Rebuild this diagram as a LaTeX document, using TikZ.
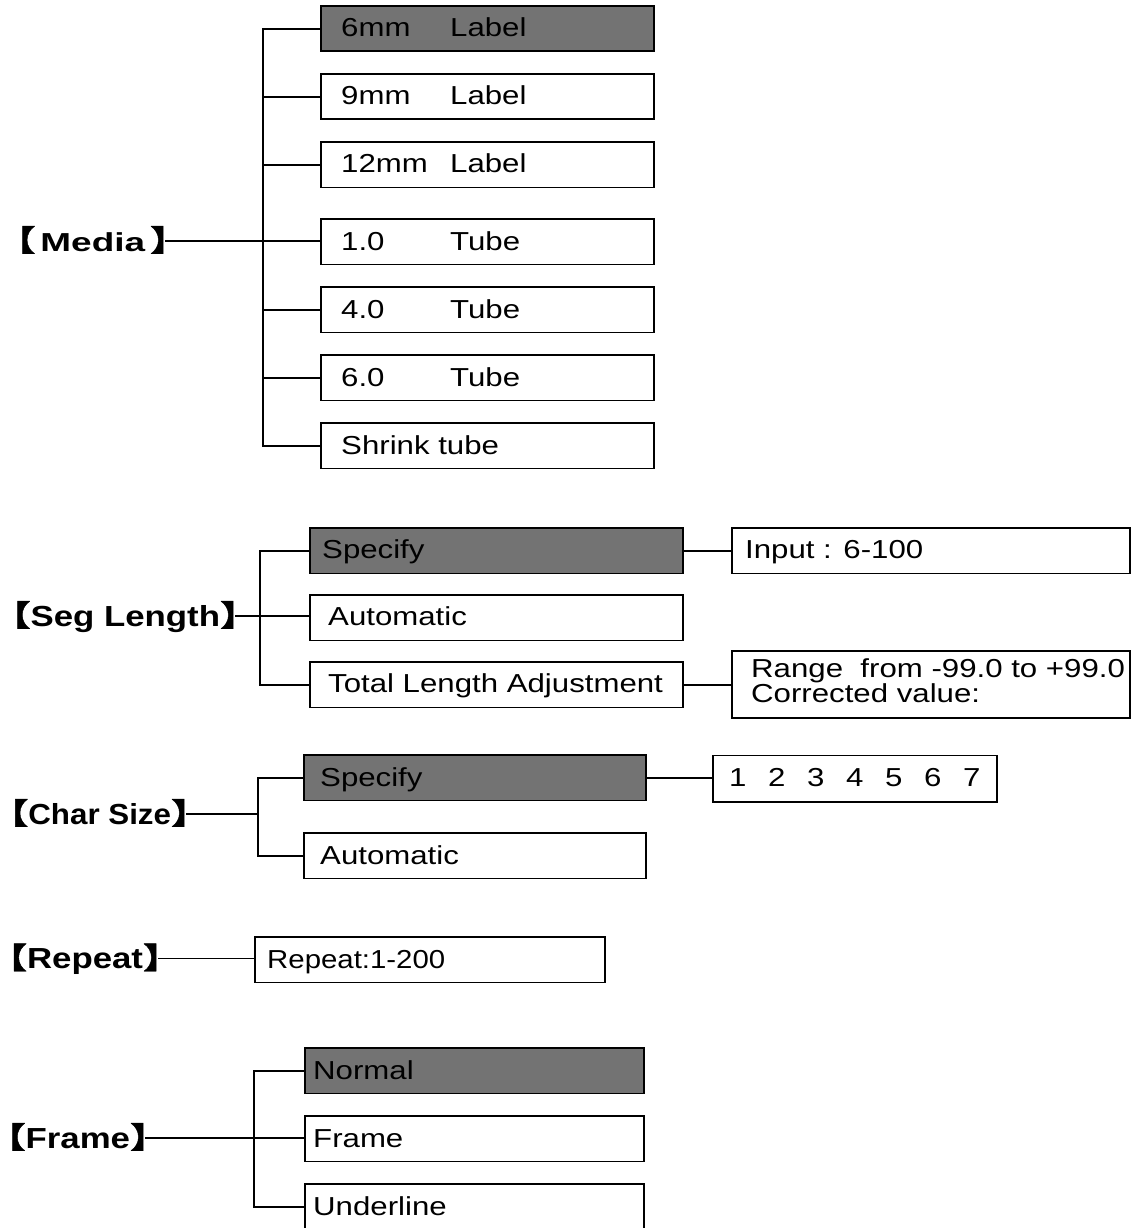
\documentclass[tikz,border=0pt]{standalone}
\usepackage{fontspec}
\setmainfont{Liberation Sans}[FakeStretch=1.2]
\newfontfamily\lblfont{Liberation Sans}[FakeStretch=1.2]
\newfontfamily\chrfont{Liberation Sans}[FakeStretch=1.08]
\newfontfamily\medfont{Liberation Sans}[FakeStretch=1.42]
\newfontfamily\repfont{Liberation Sans}[FakeStretch=1.13]
\newfontfamily\cjkfont{Noto Sans CJK SC}[FakeStretch=1.3, FakeBold=1.5]
\newcommand{\brk}[2]{{\bfseries{\cjkfont\fontsize{29}{30}\selectfont\kern-26pt 【}{#1#2}{\cjkfont\fontsize{29}{30}\selectfont 】\kern-23pt}}}
\tikzset{
  box/.style={draw, line width=1.8pt, anchor=north west, inner sep=0pt, minimum height=45.5pt},
  shadedbox/.style={box, fill=black!55},
  txt/.style={anchor=west, inner sep=0pt, text height=18.6pt, text depth=0pt, font=\fontsize{26}{30}\selectfont},
  lbl/.style={anchor=east, inner sep=0pt, text height=20pt, text depth=0pt, font=\fontsize{29}{30}\selectfont},
  wire/.style={line width=1.8pt}
}
\begin{document}
\begin{tikzpicture}[x=1pt,y=-1pt]
\useasboundingbox (0,0) rectangle (1133,1228);
% ---------- Media ----------
\node[shadedbox, minimum width=333pt] (m1) at (320,5) {};
\node[box, minimum width=333pt] (m2) at (320,73) {};
\node[box, minimum width=333pt] (m3) at (320,141) {};
\node[box, minimum width=333pt] (m4) at (320,218) {};
\node[box, minimum width=333pt] (m5) at (320,286) {};
\node[box, minimum width=333pt] (m6) at (320,354) {};
\node[box, minimum width=333pt] (m7) at (320,422) {};
\node[txt] (m1t) at (341,27.5) {\makebox[109pt][l]{6mm}Label};
\node[txt] (m2t) at (341,95.5) {\makebox[109pt][l]{9mm}Label};
\node[txt] (m3t) at (341,163.5) {\makebox[109pt][l]{12mm}Label};
\node[txt] (m4t) at (341,241) {\makebox[109pt][l]{1.0}Tube};
\node[txt] (m5t) at (341,309) {\makebox[109pt][l]{4.0}Tube};
\node[txt] (m6t) at (341,377) {\makebox[109pt][l]{6.0}Tube};
\node[txt] (m7t) at (341,445) {Shrink tube};
\node[lbl] (media) at (165,241) {\brk{\medfont\fontsize{26}{30}\selectfont\kern5pt}{Media\kern5pt}};
\coordinate (mt) at (263,0);
\draw[wire] (m1.west) -- (m1.west -| mt) -- (m7.west -| mt) -- (m7.west);
\foreach \n in {m2,m3,m5,m6} \draw[wire] (\n.west) -- (\n.west -| mt);
\draw[wire] (media.east) -- (media.east -| m4.west);
% ---------- Seg Length ----------
\node[shadedbox, minimum width=373pt] (s1) at (309,527) {};
\node[box, minimum width=373pt] (s2) at (309,594) {};
\node[box, minimum width=373pt] (s3) at (309,661) {};
\node[txt] (s1t) at (322,549.5) {Specify};
\node[txt] (s2t) at (328,616.5) {Automatic};
\node[txt] (s3t) at (328,683.5) {Total Length Adjustment};
\node[box, minimum width=398pt] (in1) at (731,527) {};
\node[txt] (in1t) at (745,549.5) {Input : 6-100};
\node[box, minimum width=398pt, minimum height=67pt] (rg) at (731,650) {};
\node[anchor=base west, inner sep=0pt, font=\fontsize{26}{30}\selectfont] (rgt1) at (751,677) {Range\ \ from -99.0 to +99.0};
\node[anchor=base west, inner sep=0pt, font=\fontsize{26}{30}\selectfont] (rgt2) at (751,702) {Corrected value:};
\node[lbl] (seg) at (235,616) {\brk{\lblfont}{Seg Length}};
\coordinate (st) at (260,0);
\draw[wire] (s1.west) -- (s1.west -| st) -- (s3.west -| st) -- (s3.west);
\draw[wire] (seg.east) -- (seg.east -| s2.west);
\draw[wire] (s1.east) -- (in1.west);
\draw[wire] (s3.east) -- (s3.east -| rg.west);
% ---------- Char Size ----------
\node[shadedbox, minimum width=342pt] (c1) at (303,754) {};
\node[box, minimum width=342pt] (c2) at (303,832) {};
\node[txt] (c1t) at (320,777) {Specify};
\node[txt] (c2t) at (320,855) {Automatic};
\node[box, minimum width=284pt, minimum height=46.5pt] (num) at (712,754.5) {};
\node[txt] (numt) at (729,777.5) {\makebox[39pt][l]{1}\makebox[39pt][l]{2}\makebox[39pt][l]{3}\makebox[39pt][l]{4}\makebox[39pt][l]{5}\makebox[39pt][l]{6}7};
\node[lbl] (chr) at (186,814) {\brk{\chrfont}{Char Size}};
\coordinate (ct) at (258,0);
\draw[wire] (c1.west) -- (c1.west -| ct) -- (c2.west -| ct) -- (c2.west);
\draw[wire] (chr.east) -- (chr.east -| ct);
\draw[wire] (c1.east) -- (num.west |- c1.east);
% ---------- Repeat ----------
\node[box, minimum width=350pt] (r1) at (254,936) {};
\node[txt, font=\repfont\fontsize{26}{30}\selectfont] (r1t) at (267,959) {Repeat:1-200};
\node[lbl] (rep) at (158,958.5) {\brk{\lblfont}{Repeat}};
\draw[wire] (rep.east) -- (rep.east -| r1.west);
% ---------- Frame ----------
\node[shadedbox, minimum width=339pt] (f1) at (304,1047) {};
\node[box, minimum width=339pt] (f2) at (304,1115) {};
\node[box, minimum width=339pt] (f3) at (304,1183) {};
\node[txt] (f1t) at (313,1070) {Normal};
\node[txt] (f2t) at (313,1138) {Frame};
\node[txt] (f3t) at (313,1206) {Underline};
\node[lbl] (frm) at (145,1138) {\brk{\lblfont}{Frame}};
\coordinate (ft) at (254,0);
\draw[wire] (f1.west) -- (f1.west -| ft) -- (f3.west -| ft) -- (f3.west);
\draw[wire] (frm.east) -- (frm.east -| f2.west);
\end{tikzpicture}
\end{document}
